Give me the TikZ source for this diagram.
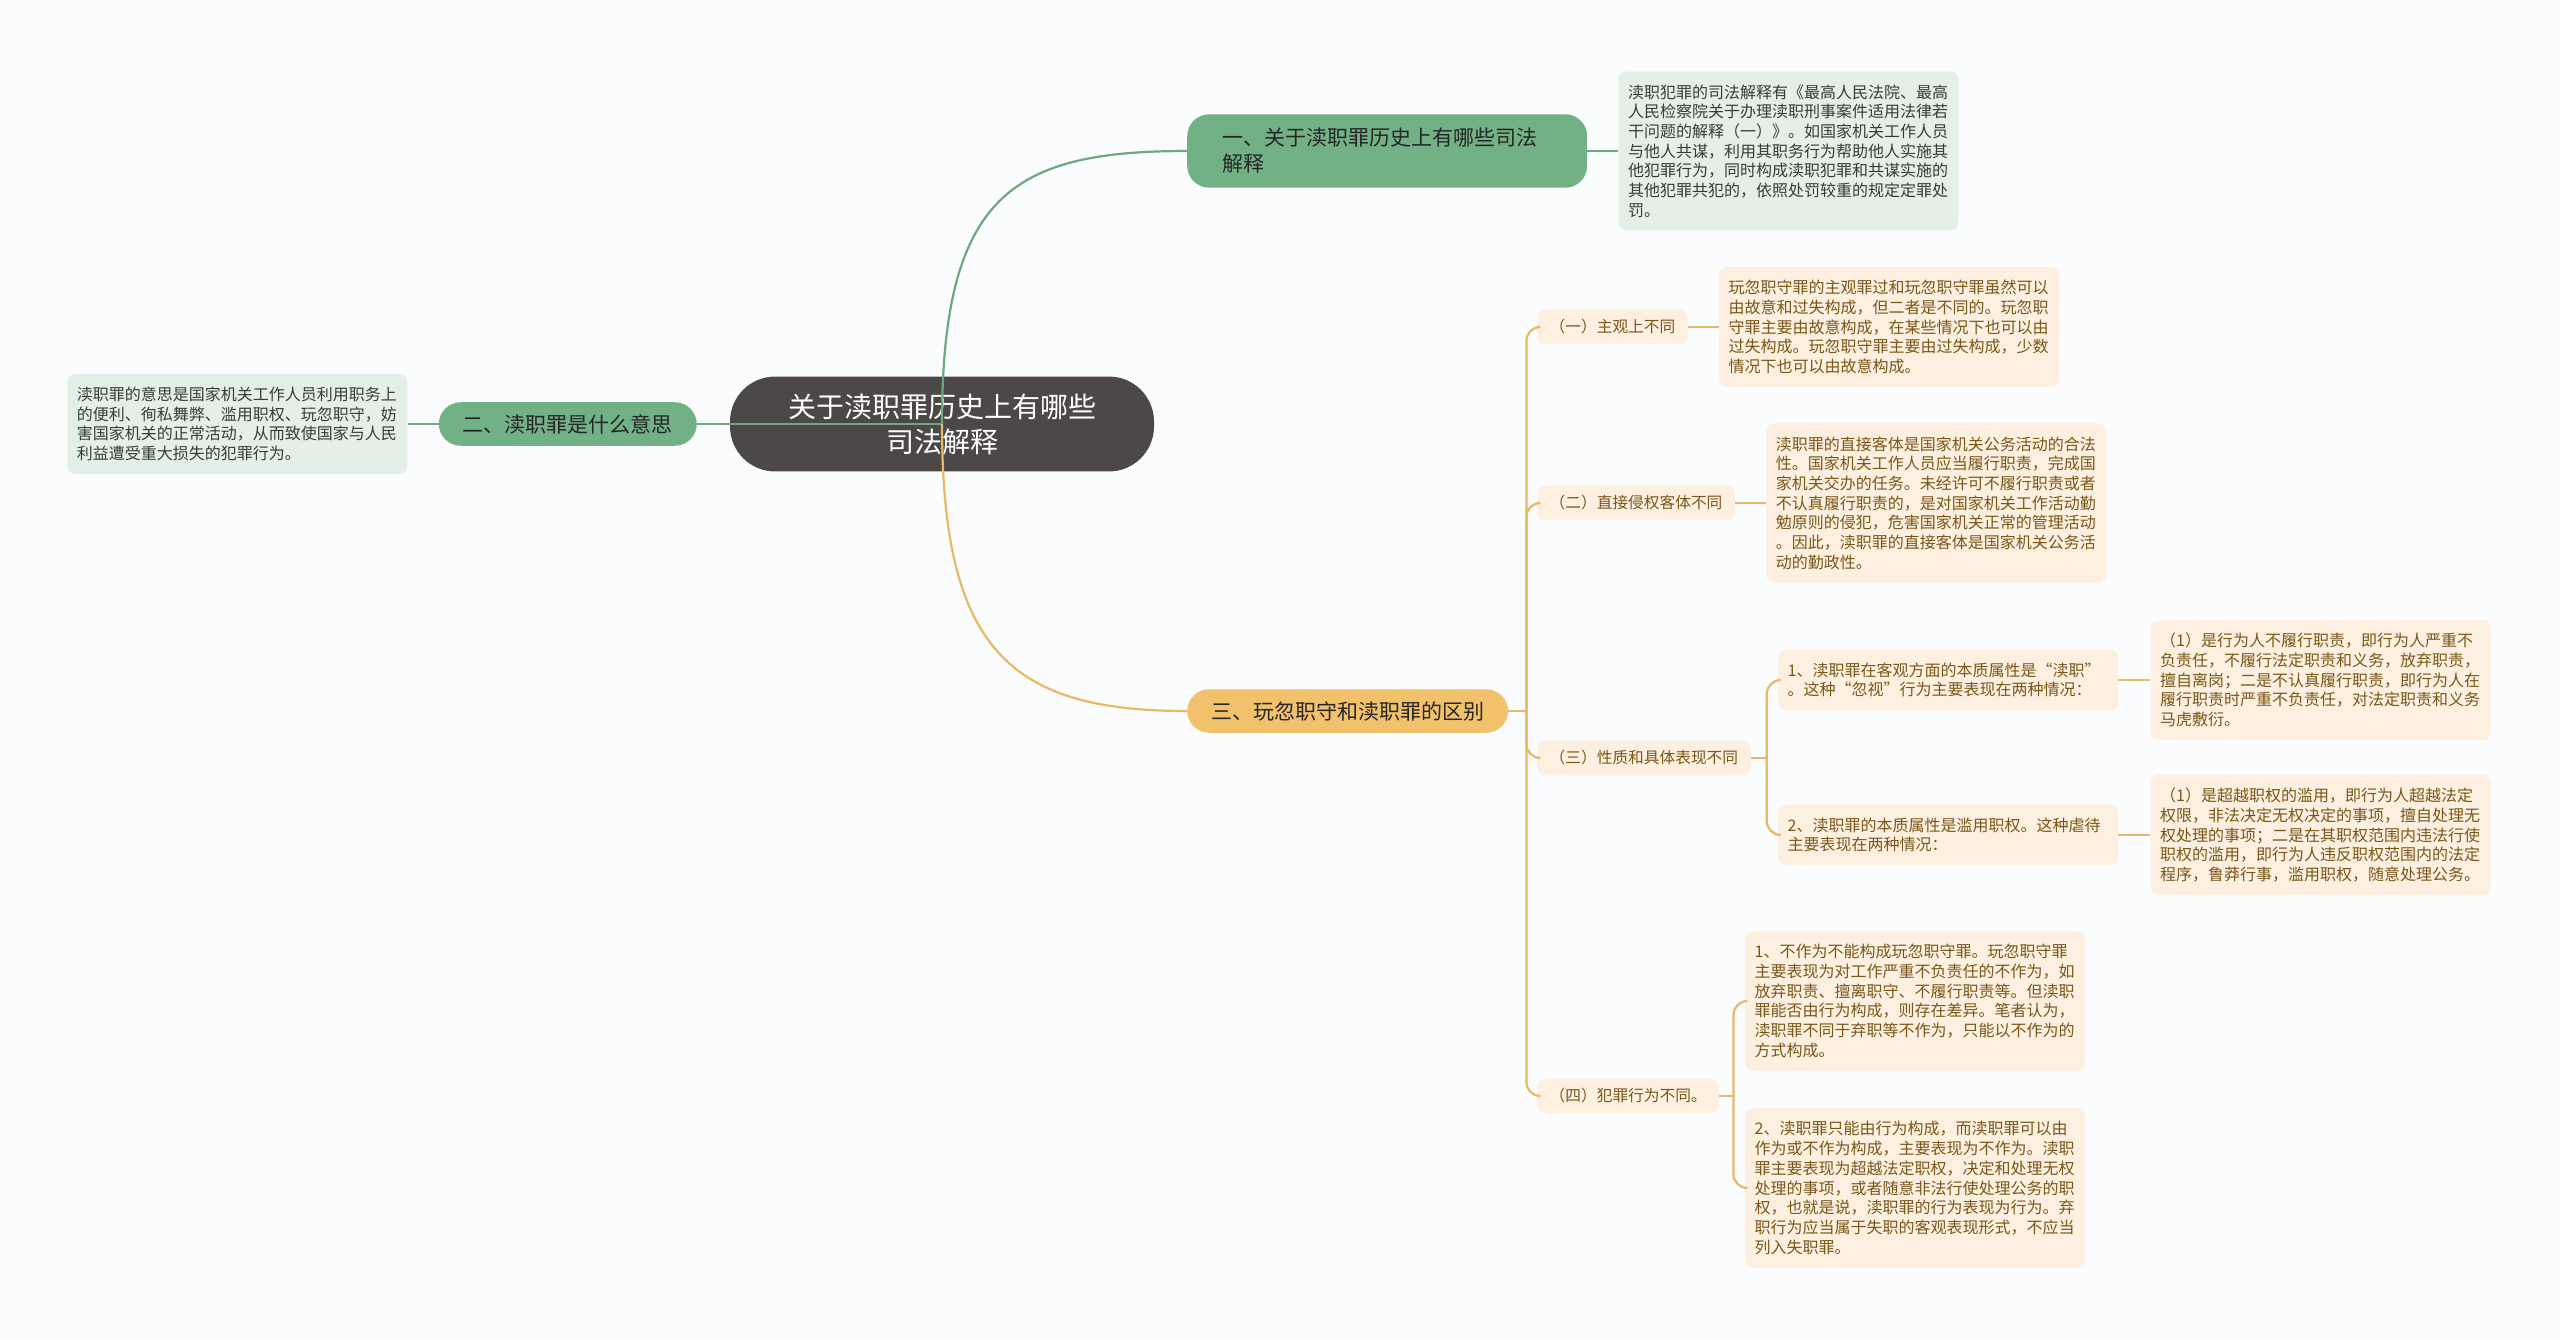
\documentclass[tikz,border=0pt]{standalone}
\usepackage{fontspec}
\setmainfont{Noto Sans CJK SC}
\usetikzlibrary{positioning,calc}
\definecolor{RootGray}{RGB}{76,72,71}
\definecolor{BranchGreen}{RGB}{114,176,134}
\definecolor{BranchOrange}{RGB}{242,193,108}
\definecolor{LeafGreen}{RGB}{228,239,231}
\definecolor{LeafOrange}{RGB}{253,240,225}
\definecolor{LineGreen}{RGB}{108,168,128}
\definecolor{LineOrange}{RGB}{232,184,100}
\definecolor{TextBrown}{RGB}{122,86,24}
\definecolor{TextGreen}{RGB}{52,62,56}
\definecolor{PaperWhite}{RGB}{251,252,253}
\tikzset{
  rootbox/.style={fill=RootGray,rounded corners=45pt,text=white,align=center,
    inner xsep=58pt,inner ysep=17pt,font=\fontsize{28}{35}\selectfont},
  greenbranch/.style={fill=BranchGreen,rounded corners=22pt,text=black!85,
    align=left,inner xsep=24pt,inner ysep=12pt,font=\fontsize{21}{26}\selectfont},
  orangebranch/.style={greenbranch,fill=BranchOrange},
  greenleaf/.style={fill=LeafGreen,rounded corners=8pt,text=TextGreen,
    text width=321pt,align=left,inner xsep=9.5pt,inner ysep=13pt,
    font=\fontsize{16}{19.7}\selectfont},
  orangeleaf/.style={greenleaf,fill=LeafOrange,text=TextBrown},
  orangelabel/.style={fill=LeafOrange,rounded corners=8pt,text=TextBrown,
    inner xsep=12.5pt,inner ysep=10pt,font=\fontsize{15.7}{19}\selectfont},
  greenline/.style={draw=LineGreen,line width=2.2pt},
  orangeline/.style={draw=LineOrange,line width=2.2pt,rounded corners=14pt},
}

\begin{document}
\begin{tikzpicture}[x=1pt,y=-1pt,node distance=31pt]
  \fill[PaperWhite] (0,0) rectangle (2560,1339);
  \useasboundingbox (0,0) rectangle (2560,1339);

  \node[rootbox] (root) at (942,424) {关于渎职罪历史上有哪些\\司法解释};

  \node[greenbranch,anchor=west,text width=330pt,inner xsep=35pt,inner ysep=14pt]
    (jieshi) at (1187,151) {一、关于渎职罪历史上有哪些司法\\解释};
  \node[greenleaf,right=of jieshi] (jieshiText) {渎职犯罪的司法解释有《最高人民法院、最高\\
    人民检察院关于办理渎职刑事案件适用法律若\\
    干问题的解释（一）》。如国家机关工作人员\\
    与他人共谋，利用其职务行为帮助他人实施其\\
    他犯罪行为，同时构成渎职犯罪和共谋实施的\\
    其他犯罪共犯的，依照处罚较重的规定定罪处\\
    罚。};

  \node[greenbranch,anchor=east] (yisi) at (697,424) {二、渎职罪是什么意思};
  \node[greenleaf,left=of yisi] (yisiText) {渎职罪的意思是国家机关工作人员利用职务上\\
    的便利、徇私舞弊、滥用职权、玩忽职守，妨\\
    害国家机关的正常活动，从而致使国家与人民\\
    利益遭受重大损失的犯罪行为。};

  \node[orangebranch,anchor=west] (qubie) at (1187,711) {三、玩忽职守和渎职罪的区别};

  \node[orangelabel,anchor=west] (zhuguan) at (1537,327) {（一）主观上不同};
  \node[orangeleaf,right=of zhuguan] (zhuguanText) {玩忽职守罪的主观罪过和玩忽职守罪虽然可以\\
    由故意和过失构成，但二者是不同的。玩忽职\\
    守罪主要由故意构成，在某些情况下也可以由\\
    过失构成。玩忽职守罪主要由过失构成，少数\\
    情况下也可以由故意构成。};

  \node[orangelabel,anchor=west] (keti) at (1537,503) {（二）直接侵权客体不同};
  \node[orangeleaf,right=of keti] (ketiText) {渎职罪的直接客体是国家机关公务活动的合法\\
    性。国家机关工作人员应当履行职责，完成国\\
    家机关交办的任务。未经许可不履行职责或者\\
    不认真履行职责的，是对国家机关工作活动勤\\
    勉原则的侵犯，危害国家机关正常的管理活动\\
    。因此，渎职罪的直接客体是国家机关公务活\\
    动的勤政性。};

  \node[orangelabel,anchor=west] (xingzhi) at (1537,758) {（三）性质和具体表现不同};
  \node[orangeleaf,anchor=west] (xingzhiA) at (1778,680) {1、渎职罪在客观方面的本质属性是“渎职”\\
    。这种“忽视”行为主要表现在两种情况：};
  \node[orangeleaf,right=32pt of xingzhiA] (xingzhiAText) {（1）是行为人不履行职责，即行为人严重不\\
    负责任，不履行法定职责和义务，放弃职责，\\
    擅自离岗；二是不认真履行职责，即行为人在\\
    履行职责时严重不负责任，对法定职责和义务\\
    马虎敷衍。};
  \node[orangeleaf,anchor=west] (xingzhiB) at (1778,835) {2、渎职罪的本质属性是滥用职权。这种虐待\\
    主要表现在两种情况：};
  \node[orangeleaf,right=32pt of xingzhiB] (xingzhiBText) {（1）是超越职权的滥用，即行为人超越法定\\
    权限，非法决定无权决定的事项，擅自处理无\\
    权处理的事项；二是在其职权范围内违法行使\\
    职权的滥用，即行为人违反职权范围内的法定\\
    程序，鲁莽行事，滥用职权，随意处理公务。};

  \node[orangelabel,anchor=west] (xingwei) at (1537,1096) {（四）犯罪行为不同。};
  \node[orangeleaf,anchor=west] (xingweiA) at (1745,1001) {1、不作为不能构成玩忽职守罪。玩忽职守罪\\
    主要表现为对工作严重不负责任的不作为，如\\
    放弃职责、擅离职守、不履行职责等。但渎职\\
    罪能否由行为构成，则存在差异。笔者认为，\\
    渎职罪不同于弃职等不作为，只能以不作为的\\
    方式构成。};
  \node[orangeleaf,anchor=west] (xingweiB) at (1745,1188) {2、渎职罪只能由行为构成，而渎职罪可以由\\
    作为或不作为构成，主要表现为不作为。渎职\\
    罪主要表现为超越法定职权，决定和处理无权\\
    处理的事项，或者随意非法行使处理公务的职\\
    权，也就是说，渎职罪的行为表现为行为。弃\\
    职行为应当属于失职的客观表现形式，不应当\\
    列入失职罪。};

  \draw[greenline] (root.center) .. controls (942,195) and (1012,151) .. (jieshi.west);
  \draw[greenline] (root.center) -- (yisi.east);
  \draw[orangeline] (root.center) .. controls (942,650) and (1010,711) .. (qubie.west);
  \draw[greenline] (jieshi.east) -- (jieshiText.west);
  \draw[greenline] (yisi.west) -- (yisiText.east);

  \draw[orangeline] (qubie.east) -- ++(18,0) coordinate (qubieJoin);
  \draw[orangeline] (qubieJoin) |- (zhuguan.west);
  \draw[orangeline] (qubieJoin) |- (keti.west);
  \draw[orangeline] (qubieJoin) |- (xingzhi.west);
  \draw[orangeline] (qubieJoin) |- (xingwei.west);
  \draw[orangeline] (zhuguan.east) -- (zhuguanText.west);
  \draw[orangeline] (keti.east) -- (ketiText.west);

  \draw[orangeline] (xingzhi.east) -- ++(16,0) coordinate (xingzhiJoin);
  \draw[orangeline] (xingzhiJoin) |- (xingzhiA.west);
  \draw[orangeline] (xingzhiJoin) |- (xingzhiB.west);
  \draw[orangeline] (xingzhiA.east) -- (xingzhiAText.west);
  \draw[orangeline] (xingzhiB.east) -- (xingzhiBText.west);

  \draw[orangeline] (xingwei.east) -- ++(14,0) coordinate (xingweiJoin);
  \draw[orangeline] (xingweiJoin) |- (xingweiA.west);
  \draw[orangeline] (xingweiJoin) |- (xingweiB.west);
\end{tikzpicture}
\end{document}
